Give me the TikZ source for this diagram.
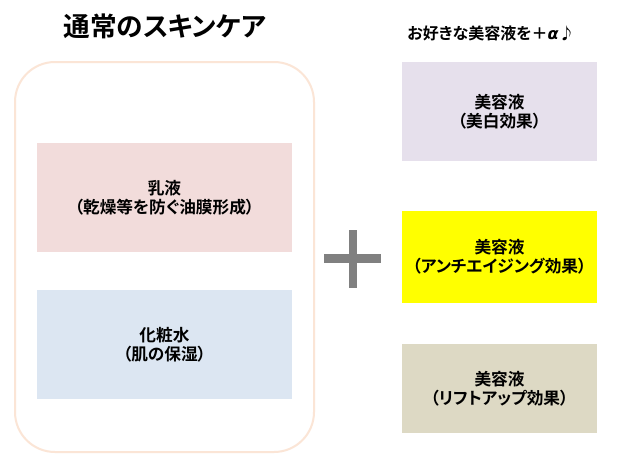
\documentclass[tikz,border=0pt]{standalone}
\usepackage{fontspec}
\newfontfamily\jp[RawFeature=+palt]{Noto Sans CJK JP Bold}
\newfontfamily\alfont{DejaVu Sans}
\definecolor{peach}{HTML}{FBE5D6}
\definecolor{pinkbox}{HTML}{F2DCDB}
\definecolor{bluebox}{HTML}{DCE6F2}
\definecolor{lilac}{HTML}{E6E0EC}
\definecolor{khaki}{HTML}{DDD9C4}
\definecolor{pureyellow}{HTML}{FFFF00}
\definecolor{plusgray}{HTML}{808080}
\tikzset{
  box/.style={draw=none, align=center, inner sep=0pt, font=\jp\fontsize{12.5}{14.5}\selectfont, text=black},
  plain/.style={inner sep=0pt, font=\jp, text=black}
}
\begin{document}
\begin{tikzpicture}[x=0.75pt,y=-0.75pt]
\useasboundingbox (0,0) rectangle (626,458);
\fill[white] (0,0) rectangle (626,458);
% title
\node[plain, font=\jp\fontsize{20}{24}\selectfont] (title) at (165,26) {通常のスキンケア};
\node[plain, font=\jp\fontsize{12}{14}\selectfont] (sub) at (491,33) {お好きな美容液を＋{\alfont\bfseries\itshape α}♪};
% container
\draw[peach, line width=1.5pt, rounded corners=30pt] (15,62) rectangle (314,452);
\coordinate (frame) at (164.5,257);
% left boxes
\fill[pinkbox] (37,143) rectangle (292,252);
\node[box] (milk) at (164.5,197.5) {乳液\\（乾燥等を防ぐ油膜形成）};
\fill[bluebox] (37,290) rectangle (292,399);
\node[box] (toner) at (164.5,345) {化粧水\\（肌の保湿）};
% plus
\fill[plusgray] (324,254) rectangle (381,263);
\fill[plusgray] (349,230) rectangle (357,288);
\coordinate (plus) at (353,258);
% right boxes
\fill[lilac] (402,62) rectangle (597,161);
\node[box] (s1) at (499.5,111.5) {美容液\\（美白効果）};
\fill[pureyellow] (402,211) rectangle (597,303);
\node[box] (s2) at (499.5,257) {美容液\\（アンチエイジング効果）};
\fill[khaki] (402,344) rectangle (597,433);
\node[box] (s3) at (499.5,388.5) {美容液\\（リフトアップ効果）};
\end{tikzpicture}
\end{document}
